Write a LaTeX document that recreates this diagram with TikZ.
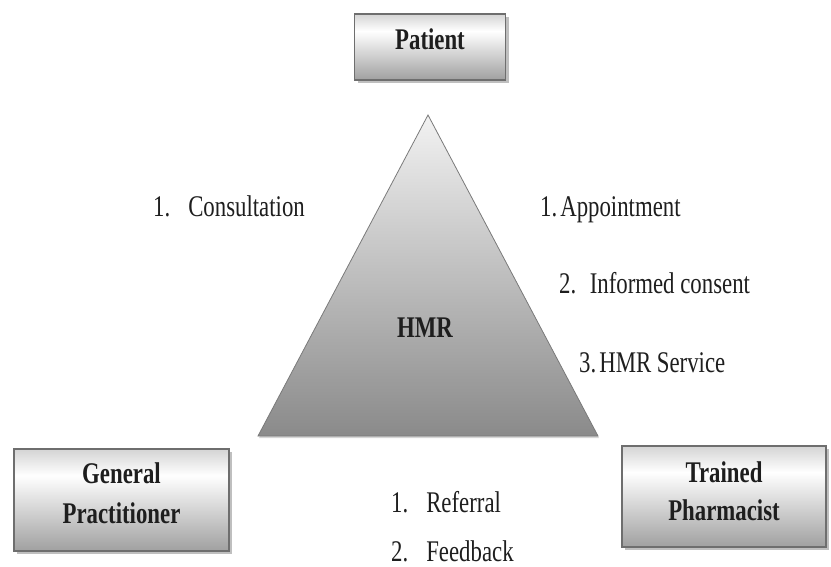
\documentclass[tikz,border=0pt]{standalone}
\usepackage{fontspec}
\setmainfont{Liberation Serif}[FakeStretch=0.76]
\usetikzlibrary{shadows}
\definecolor{boxborder}{HTML}{6E6E6E}
\definecolor{boxbot}{HTML}{A0A0A0}
\definecolor{boxtop}{HTML}{D4D4D4}
\definecolor{tritop}{HTML}{F2F2F2}
\definecolor{tribot}{HTML}{8A8A8A}
\definecolor{triedge}{HTML}{7A7A7A}
\definecolor{ink}{HTML}{1E1E1E}
\pgfdeclareverticalshading{boxshade}{100bp}{color(0bp)=(boxbot); color(25bp)=(boxbot); color(62bp)=(white); color(75bp)=(boxtop); color(100bp)=(boxtop)}
\begin{document}
\begin{tikzpicture}[x=1pt,y=-1pt,
  actor/.style={draw=boxborder, line width=1.3pt, shading=boxshade,
    drop shadow={shadow xshift=3pt, shadow yshift=-3pt, fill=black!50, opacity=0.5},
    font=\bfseries\fontsize{30}{40}\selectfont, text=ink, align=center, inner sep=0pt},
  lbl/.style={font=\fontsize{30}{36}\selectfont, text=ink, anchor=base west, inner sep=0pt}]
\useasboundingbox (0,0) rectangle (831,567);
% triangle
\path[top color=tritop, bottom color=tribot, draw=triedge, line width=0.8pt,
  drop shadow={shadow xshift=1pt, shadow yshift=-2pt, fill=black!40, opacity=0.4}]
  (428,115) -- (598,436) -- (258,436) -- cycle;
\node[font=\bfseries\fontsize{30}{36}\selectfont, text=ink, anchor=base, inner sep=0pt] (hmr) at (425,337) {HMR};
% actors
\node[actor, minimum width=151pt, minimum height=66pt, text depth=16pt] (patient) at (430,47) {Patient};
\node[actor, minimum width=215pt, minimum height=102pt, text depth=14.5pt] (gp) at (121.5,500) {General\\Practitioner};
\node[actor, font=\bfseries\fontsize{30}{38}\selectfont, minimum width=204pt, minimum height=101pt, text depth=11.5pt] (tp) at (724,496.5) {Trained\\Pharmacist};
% labels
\node[lbl] (cons) at (153,217) {1.\hspace{0.6em}Consultation};
\node[lbl] (appt) at (540,217) {1.\hspace{0.1em}Appointment};
\node[lbl] (cons2) at (559,294) {2.\hspace{0.45em}Informed consent};
\node[lbl] (serv) at (579,372) {3.\hspace{0.1em}HMR Service};
\node[lbl] (ref) at (391,512) {1.\hspace{0.6em}Referral};
\node[lbl] (fb) at (391,561) {2.\hspace{0.6em}Feedback};
\end{tikzpicture}
\end{document}
